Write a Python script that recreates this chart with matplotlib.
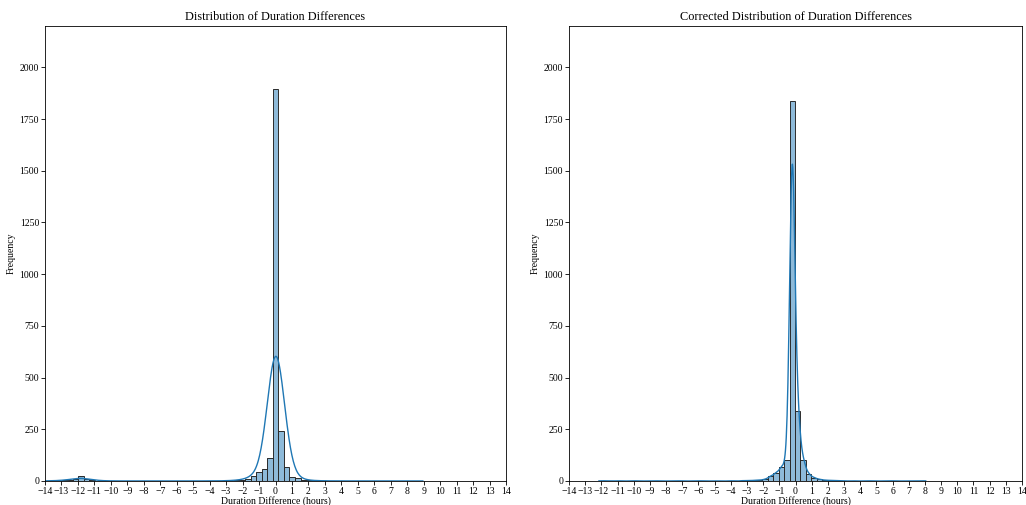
import matplotlib
matplotlib.use('Agg')
import matplotlib.pyplot as plt
import numpy as np

plt.rcParams['font.family'] = ['Liberation Serif', 'DejaVu Serif']
plt.rcParams['font.size'] = 7
plt.rcParams['xtick.labelsize'] = 7
plt.rcParams['ytick.labelsize'] = 7
plt.rcParams['axes.labelsize'] = 7
plt.rcParams['axes.titlesize'] = 8.8

# raw histogram: bins from data min to max, counts
raw_lo, raw_hi, raw_nbins = -14.0, 8.95, 68
raw_counts = [1, 1, 2, 3, 6, 12, 24, 10, 4, 2,
              1, 0, 1, 0, 0, 1, 0, 0, 0, 0,
              1, 0, 0, 0, 1, 0, 0, 0, 1, 0,
              0, 1, 1, 2, 3, 5, 10, 23, 43, 60,
              113, 1895, 241, 68, 21, 13, 5, 3, 2, 1,
              1, 0, 1, 0, 0, 1, 0, 0, 1, 0,
              0, 0, 1, 0, 0, 0, 0, 1]

# corrected histogram
cor_lo, cor_hi, cor_nbins = -12.15, 8.05, 60
cor_counts = [1, 1, 0, 1, 0, 0, 1, 0, 0, 0,
              1, 0, 0, 0, 1, 0, 0, 0, 1, 0,
              0, 1, 0, 0, 1, 0, 2, 2, 3, 4,
              8, 23, 39, 66, 103, 1836, 337, 101, 34, 16,
              8, 4, 3, 2, 1, 0, 1, 0, 0, 1,
              0, 0, 0, 1, 0, 0, 0, 0, 0, 1]

xticks = list(range(-14, 15))


def kde_curve(edges, counts, bw):
    # gaussian kde over bin centres, scaled to counts like seaborn's histplot
    centers = (edges[:-1] + edges[1:]) / 2
    counts = np.asarray(counts, dtype=float)
    width = edges[1] - edges[0]
    xs = np.linspace(edges[0], edges[-1], 800)
    dens = np.zeros_like(xs)
    for c, n in zip(centers, counts):
        if n > 0:
            dens += n * np.exp(-0.5 * ((xs - c) / bw) ** 2) / (bw * np.sqrt(2 * np.pi))
    return xs, dens * width


def draw_panel(ax, lo, hi, nbins, counts, bw, title):
    edges = np.linspace(lo, hi, nbins + 1)
    ax.bar(edges[:-1], counts, width=np.diff(edges), align='edge',
           color='#1f77b4', alpha=0.5, edgecolor='none')
    ax.bar(edges[:-1], counts, width=np.diff(edges), align='edge',
           facecolor='none', edgecolor='#2b2b2b', linewidth=0.7)
    xs, ys = kde_curve(edges, counts, bw)
    ax.plot(xs, ys, color='#1f77b4', linewidth=1.0)
    ax.set_xlim(-14, 14)
    ax.set_ylim(0, 2200)
    ax.set_xticks(xticks)
    ax.set_yticks([0, 250, 500, 750, 1000, 1250, 1500, 1750, 2000])
    ax.set_title(title, pad=4)
    ax.set_xlabel('Duration Difference (hours)', labelpad=0)
    ax.set_ylabel('Frequency', labelpad=3)
    ax.tick_params(length=3, width=0.6, pad=1.2)
    for s in ax.spines.values():
        s.set_linewidth(0.6)


fig = plt.figure(figsize=(10.26, 5.05), dpi=100)
ax1 = fig.add_axes([45 / 1026, 24 / 505, 461 / 1026, 455 / 505])
ax2 = fig.add_axes([569 / 1026, 24 / 505, 453 / 1026, 455 / 505])

draw_panel(ax1, raw_lo, raw_hi, raw_nbins, raw_counts, 0.5,
           'Distribution of Duration Differences')
draw_panel(ax2, cor_lo, cor_hi, cor_nbins, cor_counts, 0.166,
           'Corrected Distribution of Duration Differences')

fig.savefig('out.png', dpi=100)
